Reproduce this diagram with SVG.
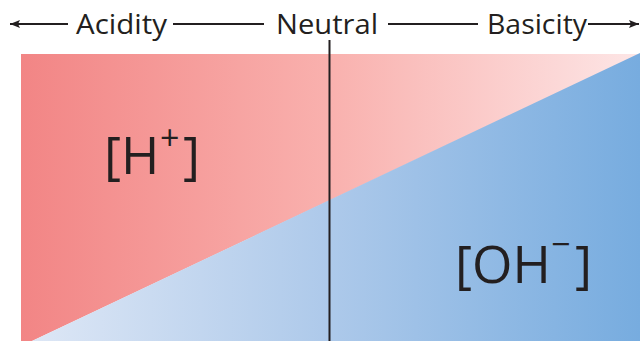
<svg xmlns="http://www.w3.org/2000/svg" width="641" height="341" viewBox="0 0 641 341">
<style>
.lbl{font-family:"Open Sans","Noto Sans",sans-serif;fill:#231f20}
.top{font-size:27px}
.big{font-size:52px}
.sup{font-size:34px}
.ln{stroke:#231f20;stroke-width:1.8;fill:none}
</style>
<defs>
<linearGradient id="red" x1="21" y1="0" x2="640" y2="0" gradientUnits="userSpaceOnUse">
<stop offset="0" stop-color="#f28585"/>
<stop offset="0.5" stop-color="#f9b1ae"/>
<stop offset="1" stop-color="#fde6e6"/>
</linearGradient>
<linearGradient id="blue" x1="21" y1="0" x2="640" y2="0" gradientUnits="userSpaceOnUse">
<stop offset="0" stop-color="#dfe8f6"/>
<stop offset="0.5" stop-color="#adc9ea"/>
<stop offset="1" stop-color="#77acdf"/>
</linearGradient>
<marker id="ah" viewBox="0 0 10 8" refX="10" refY="4" markerWidth="10" markerHeight="8" markerUnits="userSpaceOnUse" orient="auto">
<path d="M0,0 L10,4 L0,8 L2,4 Z" fill="#231f20"/>
</marker>
</defs>
<g id="acid-region">
<polygon points="21,54 640,54 32,341 21,341" fill="url(#red)"/>
</g>
<g id="base-region">
<polygon points="640,53 640,341 32,341" fill="url(#blue)"/>
</g>
<g id="H-label">
<text class="lbl big" x="104" y="174">[H<tspan class="sup" x="160" y="150">+</tspan><tspan x="183" y="174">]</tspan></text>
</g>
<g id="OH-label">
<text class="lbl big" x="455" y="283">[OH<tspan class="sup" x="551" y="256">−</tspan><tspan x="575" y="283">]</tspan></text>
</g>
<g id="connectors">
<line class="ln" x1="68" y1="24" x2="10" y2="24" marker-end="url(#ah)"/>
<line class="ln" x1="173" y1="24" x2="264" y2="24"/>
<line class="ln" x1="388" y1="24" x2="478" y2="24"/>
<line class="ln" x1="588" y1="24" x2="639" y2="24" marker-end="url(#ah)"/>
<line x1="329.5" y1="40" x2="329.5" y2="341" stroke="#231f20" stroke-width="2"/>
</g>
<g id="acidity"><text class="lbl top" x="76" y="34" textLength="91" lengthAdjust="spacingAndGlyphs">Acidity</text></g>
<g id="neutral"><text class="lbl top" x="276" y="34" textLength="102" lengthAdjust="spacingAndGlyphs">Neutral</text></g>
<g id="basicity"><text class="lbl top" x="487" y="34" textLength="100" lengthAdjust="spacingAndGlyphs">Basicity</text></g>
</svg>
